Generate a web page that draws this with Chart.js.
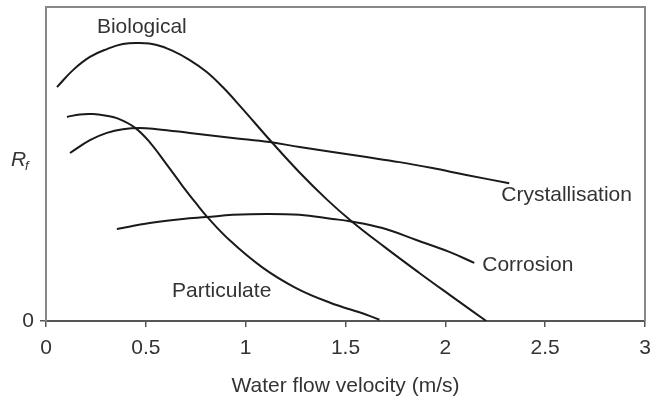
<!DOCTYPE html>
<html>
<head>
<meta charset="utf-8">
<script src="https://cdn.jsdelivr.net/npm/chart.js@4"></script>
<style>
  html, body { margin: 0; padding: 0; background: #fff; overflow: hidden; }
  #wrap { width: 653px; height: 396px; }
</style>
</head>
<body>
<div id="wrap"><canvas id="myChart"></canvas></div>
<script>
// curve values (x = velocity m/s, y = Rf, arbitrary units 0..10)
const biologicalX = [0.055, 0.135, 0.22, 0.305, 0.385, 0.47, 0.555, 0.635, 0.72, 0.805, 0.885, 0.97, 1.13, 1.27, 1.41, 1.53, 1.695, 1.87, 2.02, 2.205];
const biologicalY = [7.45, 7.99, 8.41, 8.66, 8.82, 8.85, 8.79, 8.60, 8.31, 7.93, 7.45, 6.86, 5.70, 4.73, 3.85, 3.18, 2.36, 1.53, 0.84, 0.0];

const particulateX = [0.105, 0.17, 0.235, 0.295, 0.355, 0.445, 0.52, 0.605, 0.685, 0.76, 0.805, 0.92, 1.085, 1.255, 1.42, 1.605, 1.67];
const particulateY = [6.50, 6.58, 6.59, 6.545, 6.46, 6.16, 5.69, 4.98, 4.29, 3.68, 3.33, 2.57, 1.70, 1.04, 0.59, 0.20, 0.04];

const crystalX = [0.12, 0.22, 0.305, 0.385, 0.47, 0.555, 0.72, 0.935, 1.12, 1.27, 1.435, 1.605, 1.77, 1.935, 2.105, 2.32];
const crystalY = [5.35, 5.76, 5.99, 6.11, 6.15, 6.11, 5.99, 5.83, 5.70, 5.54, 5.38, 5.22, 5.06, 4.87, 4.65, 4.39];

const corrosionX = [0.355, 0.52, 0.685, 0.805, 0.935, 1.105, 1.27, 1.435, 1.52, 1.685, 1.855, 2.02, 2.145];
const corrosionY = [2.93, 3.12, 3.25, 3.31, 3.38, 3.41, 3.38, 3.25, 3.18, 2.96, 2.58, 2.20, 1.85];

const xTicks = [0, 0.5, 1, 1.5, 2, 2.5, 3];
const xTickLabels = ['0', '0.5', '1', '1.5', '2', '2.5', '3'];

// curve labels
const labelTexts = ['Biological', 'Particulate', 'Crystallisation', 'Corrosion'];
const labelX = [0.48, 0.88, 2.28, 2.185];
const labelY = [9.36, 0.95, 4.01, 1.78];
const labelAlign = ['center', 'center', 'left', 'left'];

const FONT = '"Liberation Sans", Arial, Helvetica, sans-serif';
const TEXT = '#333';
const FS = 21;

function pairs(xs, ys) {
  return xs.map((x, i) => ({ x: x, y: ys[i] }));
}

function curve(name, xs, ys) {
  return {
    label: name,
    data: pairs(xs, ys),
    borderColor: '#1a1a1a',
    borderWidth: 2,
    pointRadius: 0,
    fill: false,
    tension: 0.4
  };
}

const extras = {
  id: 'extras',
  afterDraw(chart) {
    const c = chart.ctx;
    const a = chart.chartArea;
    const xs = chart.scales.x, ys = chart.scales.y;
    c.save();
    // top and right frame
    c.strokeStyle = '#888';
    c.lineWidth = 2;
    c.beginPath();
    c.moveTo(a.left, a.top);
    c.lineTo(a.right, a.top);
    c.lineTo(a.right, a.bottom);
    c.stroke();

    // curve labels
    c.fillStyle = TEXT;
    c.font = FS + 'px ' + FONT;
    c.textBaseline = 'middle';
    labelTexts.forEach((t, i) => {
      c.textAlign = labelAlign[i];
      c.fillText(t, xs.getPixelForValue(labelX[i]), ys.getPixelForValue(labelY[i]));
    });

    // y axis label R_f
    c.textAlign = 'left';
    c.font = 'italic ' + FS + 'px ' + FONT;
    c.fillText('R', 11, 160);
    c.font = 'italic 13px ' + FONT;
    c.fillText('f', 25, 166);
    c.restore();
  }
};

const ctx = document.getElementById('myChart').getContext('2d');
const myChart = new Chart(ctx, {
  type: 'line',
  data: {
    datasets: [
      curve('Biological', biologicalX, biologicalY),
      curve('Particulate', particulateX, particulateY),
      curve('Crystallisation', crystalX, crystalY),
      curve('Corrosion', corrosionX, corrosionY)
    ]
  },
  options: {
    responsive: true,
    maintainAspectRatio: false,
    animation: false,
    layout: { padding: { top: 7, right: 8, left: 0, bottom: 0 } },
    plugins: { legend: { display: false }, tooltip: { enabled: false } },
    scales: {
      x: {
        type: 'linear',
        min: 0,
        max: 3,
        afterBuildTicks: (scale) => { scale.ticks = xTicks.map(v => ({ value: v })); },
        afterFit: (scale) => {
          scale.height = 75;
          scale.paddingLeft = 0;
          scale.paddingRight = 0;
        },
        grid: { drawOnChartArea: false, drawTicks: true, tickLength: 6, color: '#555', lineWidth: 1.5 },
        border: { color: '#555', width: 2 },
        ticks: {
          color: TEXT,
          font: { size: FS, family: FONT },
          padding: 9,
          maxRotation: 0,
          callback: (v, i) => xTickLabels[i]
        },
        title: {
          display: true,
          text: 'Water flow velocity (m/s)',
          color: TEXT,
          font: { size: FS, family: FONT },
          padding: { top: 0, bottom: -3 }
        }
      },
      y: {
        type: 'linear',
        min: 0,
        max: 10,
        afterBuildTicks: (scale) => { scale.ticks = [{ value: 0 }]; },
        afterFit: (scale) => {
          scale.width = 46;
          scale.paddingTop = 0;
          scale.paddingBottom = 0;
        },
        grid: { drawOnChartArea: false, drawTicks: true, tickLength: 6, color: '#555', lineWidth: 1.5 },
        border: { color: '#888', width: 2 },
        ticks: { color: TEXT, font: { size: FS, family: FONT }, padding: 6 }
      }
    }
  },
  plugins: [extras]
});
</script>
</body>
</html>
